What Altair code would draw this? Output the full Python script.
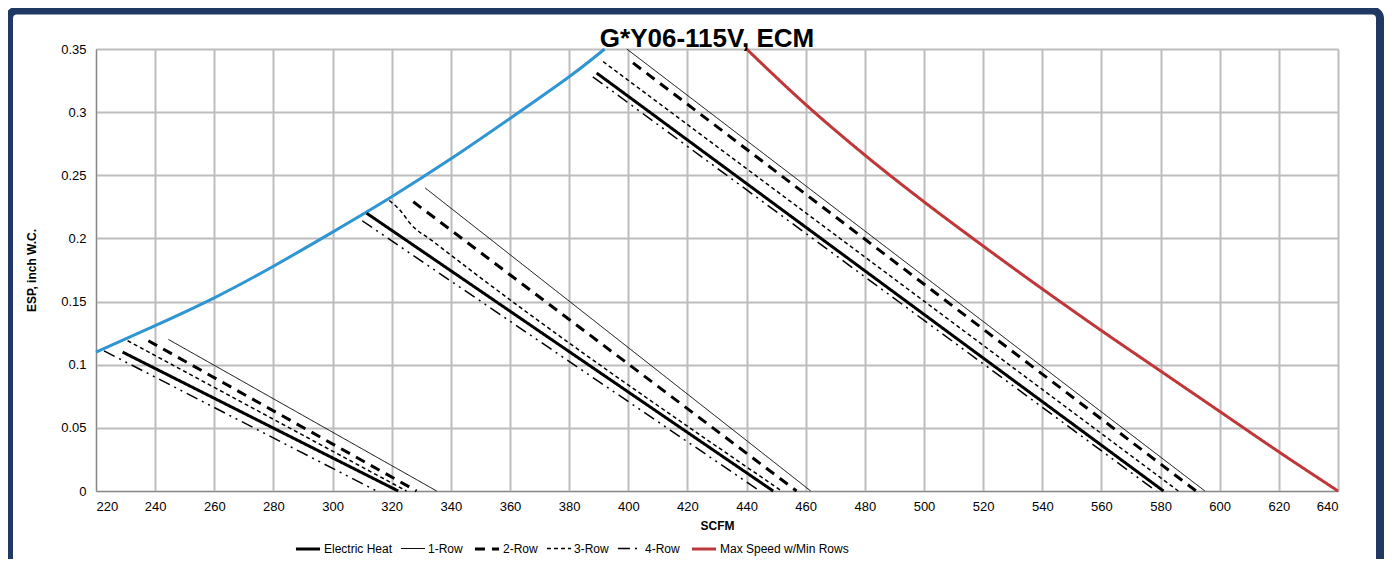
import altair as alt
import pandas as pd

# ---------------- data ----------------
SERIES = ["Electric Heat", "1-Row", "2-Row", "3-Row", "4-Row", "Max Speed w/Min Rows"]

# three fan speeds (low / medium / high); each list is [(SCFM, ESP), ...]
electric_heat = [[(229.0, 0.110), (322.2, 0.0)],
                 [(311.5, 0.220), (449.0, 0.0)],
                 [(389.3, 0.331), (581.0, 0.0)]]
one_row = [[(244.5, 0.120), (335.2, 0.0)],
           [(331.3, 0.240), (461.7, 0.0)],
           [(399.5, 0.350), (595.0, 0.0)]]
two_row = [[(237.7, 0.119), (328.4, 0.0)],
           [(327.3, 0.229), (456.9, 0.0)],
           [(401.6, 0.339), (592.0, 0.0)]]
three_row = [[(230.7, 0.119), (325.0, 0.0)],
             [(319.2, 0.230), (323.3, 0.221), (326.2, 0.212), (334.1, 0.1975), (451.9, 0.0)],
             [(391.5, 0.340), (586.0, 0.0)]]
four_row = [[(222.7, 0.111), (314.9, 0.0)],
            [(310.0, 0.214), (444.5, 0.0)],
            [(388.0, 0.328), (578.5, 0.0)]]

max_speed_cfm = [440, 460, 480, 500, 520, 540, 560, 580, 600, 620, 640]
max_speed_esp = [0.350, 0.306, 0.266, 0.229, 0.194, 0.160, 0.127, 0.095, 0.063, 0.031, 0.0]

system_cfm = [220, 240, 260, 280, 300, 320, 340, 360, 380, 392]
system_esp = [0.110, 0.131, 0.153, 0.178, 0.205, 0.233, 0.263, 0.295, 0.328, 0.350]

x_ticks = list(range(220, 641, 20))
y_ticks = [0, 0.05, 0.1, 0.15, 0.2, 0.25, 0.3, 0.35]
TITLE = "G*Y06-115V, ECM"

# ---------------- build tables ----------------
rows = []
for name, groups in zip(SERIES[:5], [electric_heat, one_row, two_row, three_row, four_row]):
    for gi, pts in enumerate(groups):
        for i, (c, e) in enumerate(pts):
            rows.append({"series": name, "seg": f"{name}-{gi}", "cfm": c, "esp": e, "ord": i})
for i, (c, e) in enumerate(zip(max_speed_cfm, max_speed_esp)):
    rows.append({"series": SERIES[5], "seg": "max", "cfm": c, "esp": e, "ord": i})
df = pd.DataFrame(rows)

sys_df = pd.DataFrame({"cfm": system_cfm, "esp": system_esp})
one_df = pd.DataFrame({"t": [TITLE]})

W, H = 1242, 442
LEFT, TOP = 88, 41
GRID = "#BDBDBD"

xscale = alt.Scale(domain=[220, 640], nice=False, zero=False)
yscale = alt.Scale(domain=[0, 0.35], nice=False)

xaxis = alt.Axis(values=x_ticks, title="SCFM", format="d", grid=True, ticks=False,
                 gridColor=GRID, gridOpacity=1, gridWidth=2,
                 labelFontSize=13, labelPadding=9, titleFontSize=12, titleFontWeight="bold",
                 titlePadding=7)
yaxis = alt.Axis(values=y_ticks, title="ESP, inch W.C.", format="~f", grid=True, ticks=False,
                 gridColor=GRID, gridOpacity=1, gridWidth=2,
                 labelFontSize=13, labelPadding=10, titleFontSize=12, titleFontWeight="bold",
                 titlePadding=22)

legend = alt.Legend(title=None, orient="none", direction="horizontal",
                    legendX=198, legendY=486, symbolType="stroke", symbolSize=580,
                    labelFontSize=12, labelFont="Liberation Sans", labelColor="#000000",
                    labelOffset=2, columnPadding=5)

lines = alt.Chart(df).mark_line(strokeCap="butt", interpolate="monotone").encode(
    x=alt.X("cfm:Q", scale=xscale, axis=xaxis),
    y=alt.Y("esp:Q", scale=yscale, axis=yaxis),
    detail="seg:N",
    order="ord:Q",
    color=alt.Color("series:N", scale=alt.Scale(domain=SERIES,
                    range=["#000000"] * 5 + ["#C0373A"]), legend=legend),
    strokeDash=alt.StrokeDash("series:N", scale=alt.Scale(domain=SERIES,
                    range=[[1, 0], [1, 0], [10, 7], [4, 3], [12, 5, 2, 5, 2, 5], [1, 0]]),
                    legend=legend),
    strokeWidth=alt.StrokeWidth("series:N", scale=alt.Scale(type="ordinal", domain=SERIES,
                    range=[3, 1, 3, 1.5, 1.5, 3]), legend=legend),
)

system = alt.Chart(sys_df).mark_line(interpolate="natural").encode(
    x=alt.X("cfm:Q", scale=xscale),
    y=alt.Y("esp:Q", scale=yscale),
    color=alt.value("#2F95D3"),
    strokeWidth=alt.value(3),
)

title = alt.Chart(one_df).mark_text(font="Liberation Sans", fontSize=26, fontWeight="bold",
                                    baseline="alphabetic", align="center",
                                    color="#000000").encode(
    text="t:N", x=alt.value(611), y=alt.value(-2),
)

frame = alt.Chart(one_df).mark_rect(fillOpacity=0, stroke="#203864", strokeWidth=8,
                                    cornerRadius=8).encode(
    x=alt.value(-LEFT + 1), x2=alt.value(W + 42),
    y=alt.value(-TOP + 2.5), y2=alt.value(H + 200),
)

chart = alt.layer(frame, system, lines, title).properties(
    width=W, height=H,
    autosize=alt.AutoSizeParams(type="none"),
    padding={"left": LEFT, "top": TOP, "right": 1376 - LEFT - W, "bottom": 551 - TOP - H},
).configure_view(
    stroke="#44546A", strokeWidth=1
).configure_axis(
    domainColor="#8A93A0", domainWidth=1.5,
    labelColor="#000000", titleColor="#000000", labelFont="Liberation Sans",
    titleFont="Liberation Sans"
).configure(background="white")

chart.save("out.html", embed_options={"renderer": "svg", "actions": False})
